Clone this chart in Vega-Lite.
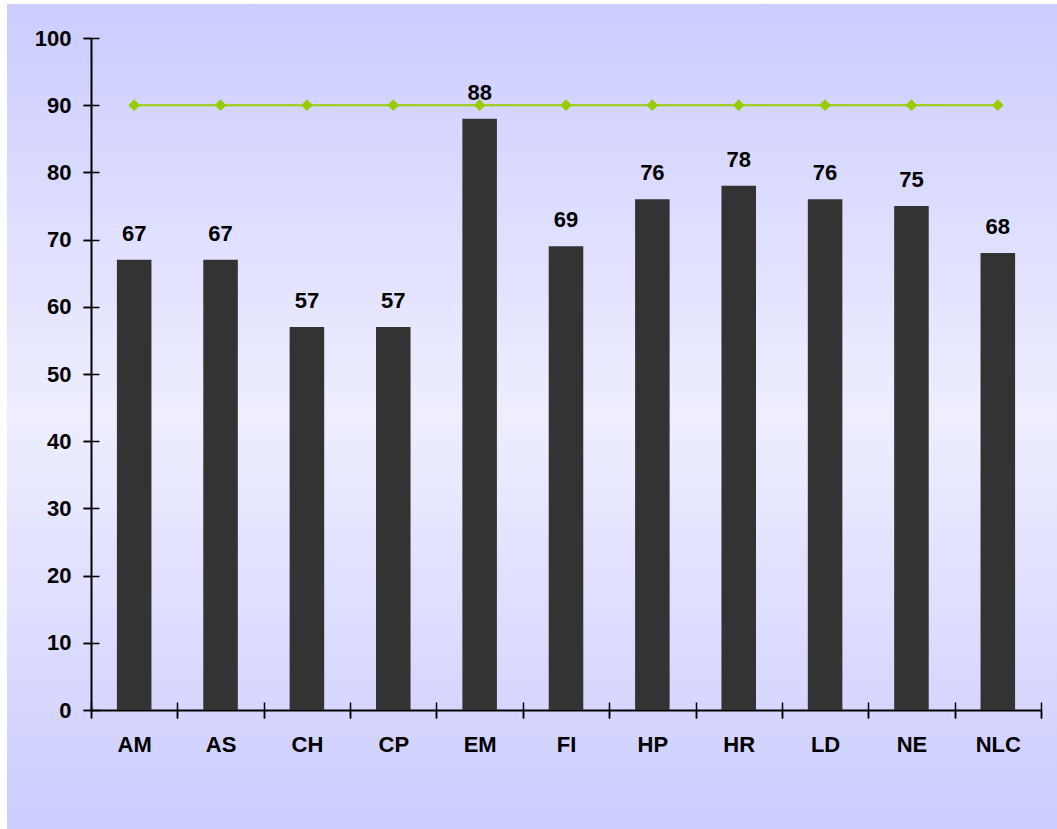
{
  "$schema": "https://vega.github.io/schema/vega-lite/v6.json",
  "autosize": {"type": "none"},
  "padding": {"left": 7, "top": 4, "right": 0, "bottom": 0},
  "width": 1050,
  "height": 825,
  "background": "white",
  "view": {
    "stroke": null,
    "fill": {
      "gradient": "linear",
      "x1": 0, "y1": 0, "x2": 0, "y2": 1,
      "stops": [
        {"offset": 0, "color": "#ccccff"},
        {"offset": 0.5, "color": "#eeeeff"},
        {"offset": 1, "color": "#ccccff"}
      ]
    }
  },
  "config": {
    "font": "Liberation Sans",
    "axis": {
      "domainColor": "black",
      "domainWidth": 2,
      "tickColor": "black",
      "tickWidth": 1.5,
      "tickSize": 8,
      "labelFont": "Liberation Sans",
      "labelFontSize": 22,
      "labelFontWeight": "bold",
      "labelColor": "black",
      "grid": false,
      "title": null
    }
  },
  "data": {
    "values": [
      {"unit": "AM", "score": 67, "target": 90},
      {"unit": "AS", "score": 67, "target": 90},
      {"unit": "CH", "score": 57, "target": 90},
      {"unit": "CP", "score": 57, "target": 90},
      {"unit": "EM", "score": 88, "target": 90},
      {"unit": "FI", "score": 69, "target": 90},
      {"unit": "HP", "score": 76, "target": 90},
      {"unit": "HR", "score": 78, "target": 90},
      {"unit": "LD", "score": 76, "target": 90},
      {"unit": "NE", "score": 75, "target": 90},
      {"unit": "NLC", "score": 68, "target": 90}
    ]
  },
  "resolve": {"axis": {"x": "independent", "y": "independent"}},
  "layer": [
    {
      "mark": {"type": "bar", "color": "#333333", "width": {"band": 0.4}},
      "encoding": {
        "x": {
          "field": "unit",
          "type": "nominal",
          "sort": null,
          "scale": {"range": [84, 1034], "paddingInner": 0, "paddingOuter": 0},
          "axis": {
            "orient": "bottom",
            "offset": -119,
            "labelAngle": 0,
            "labelPadding": 16,
            "tickBand": "extent"
          }
        },
        "y": {
          "field": "score",
          "type": "quantitative",
          "scale": {"domain": [0, 100], "nice": false, "range": [706, 34]},
          "axis": {
            "orient": "left",
            "offset": -84,
            "values": [0, 10, 20, 30, 40, 50, 60, 70, 80, 90, 100],
            "labelPadding": 12
          }
        }
      }
    },
    {
      "mark": {
        "type": "text",
        "font": "Liberation Sans",
        "fontSize": 22,
        "fontWeight": "bold",
        "color": "black",
        "baseline": "middle",
        "dy": -26
      },
      "encoding": {
        "x": {
          "field": "unit",
          "type": "nominal",
          "sort": null,
          "axis": {
            "orient": "bottom",
            "offset": -127,
            "domain": false,
            "labels": false,
            "tickSize": 16,
            "tickBand": "extent"
          }
        },
        "y": {
          "field": "score",
          "type": "quantitative",
          "axis": {
            "orient": "left",
            "offset": -92,
            "domain": false,
            "labels": false,
            "tickSize": 16,
            "values": [0, 10, 20, 30, 40, 50, 60, 70, 80, 90, 100]
          }
        },
        "text": {"field": "score", "type": "quantitative", "format": "d"}
      }
    },
    {
      "mark": {"type": "line", "color": "#99cc00", "strokeWidth": 2},
      "encoding": {
        "x": {"field": "unit", "type": "nominal", "sort": null, "axis": null},
        "y": {"field": "target", "type": "quantitative", "axis": null}
      }
    },
    {
      "mark": {"type": "point", "shape": "square", "angle": 45, "filled": true, "size": 68, "color": "#99cc00", "opacity": 1},
      "encoding": {
        "x": {"field": "unit", "type": "nominal", "sort": null, "axis": null},
        "y": {"field": "target", "type": "quantitative", "axis": null}
      }
    }
  ]
}
